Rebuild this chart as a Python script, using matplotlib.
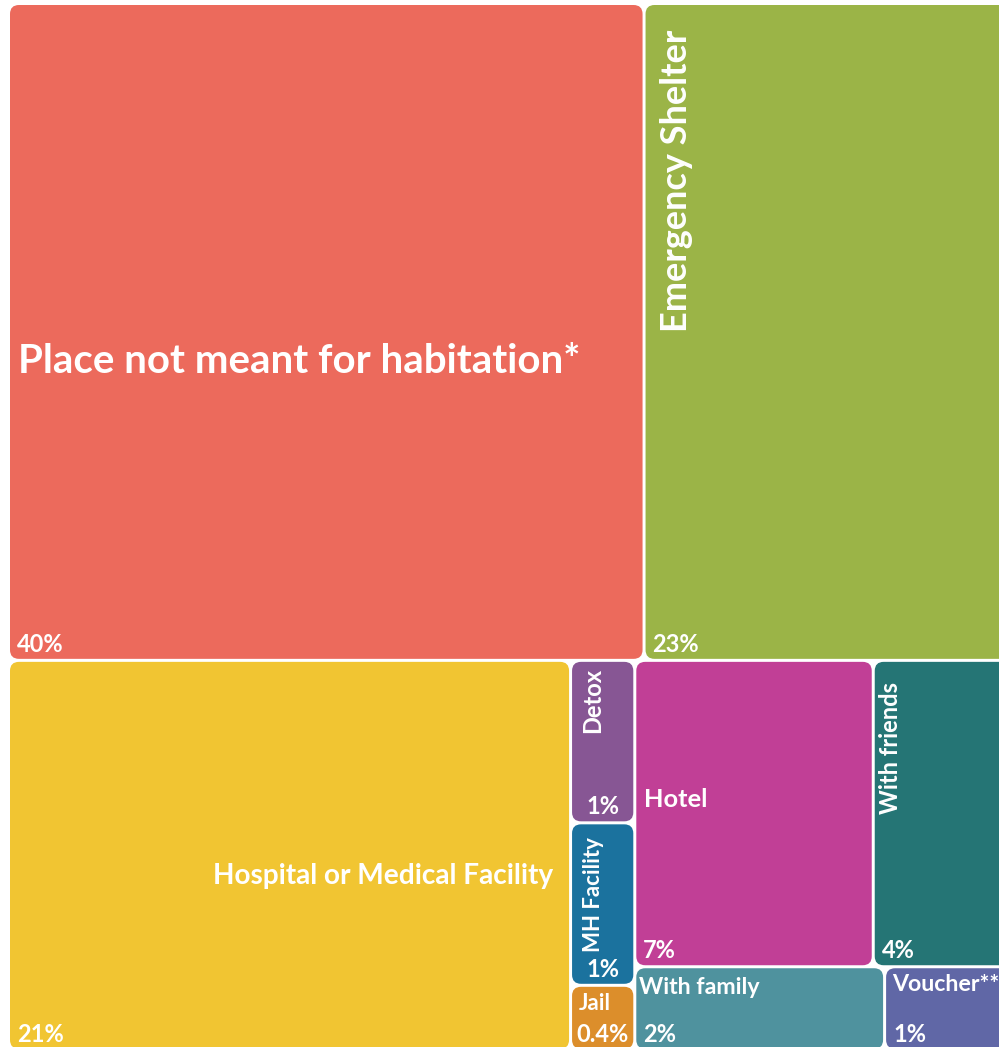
import numpy as np
import matplotlib.pyplot as plt
from matplotlib.patches import FancyBboxPatch

plt.rcParams['font.family'] = ['Lato', 'DejaVu Sans']

# data
categories = ['Place not meant for habitation*', 'Emergency Shelter',
              'Hospital or Medical Facility', 'Detox', 'MH Facility', 'Jail',
              'Hotel', 'With friends', 'With family', 'Voucher**']
shares = [40, 23, 21, 1, 1, 0.4, 7, 4, 2, 1]
pct_labels = ['40%', '23%', '21%', '1%', '1%', '0.4%', '7%', '4%', '2%', '1%']
colors = ['#EC6A5C', '#9BB447', '#F1C532', '#875694', '#1B729E', '#DC8E2B',
          '#C13F96', '#257575', '#4F929E', '#6067A6']

# label look per cell: kind, size, offsets (px)
# 'h' -> horizontal, (ha, pad from side, baseline below top)
# 'v' -> rotated, (baseline right of left edge, text end below top)
label_style = {
    'Place not meant for habitation*': ('h', 29, 'left', 8, 367.7),
    'Emergency Shelter': ('v', 26, 41, 25),
    'Hospital or Medical Facility': ('h', 20.2, 'right', 16, 222),
    'Detox': ('v', 17, 28, 6),
    'MH Facility': ('v', 16, 28, 13),
    'Jail': ('h', 16, 'left', 7, 23),
    'Hotel': ('h', 18.3, 'left', 8, 144.7),
    'With friends': ('v', 17, 23, 20),
    'With family': ('h', 16.7, 'left', 3, 26),
    'Voucher**': ('h', 16.7, 'left', 6, 23),
}
narrow = ['Detox', 'MH Facility', 'Jail']


def squarify(values, x0, y0, x1, y1, ratio=(1 + 5 ** 0.5) / 2):
    """d3 style squarified layout, keeps the input order"""
    rects = []
    n = len(values)
    value = float(sum(values))
    i0 = i1 = 0
    while i0 < n:
        dx, dy = x1 - x0, y1 - y0
        sumv = values[i1]
        i1 += 1
        minv = maxv = sumv
        alpha = max(dy / dx, dx / dy) / (value * ratio)
        beta = sumv * sumv * alpha
        min_ratio = max(maxv / beta, beta / minv)
        while i1 < n:
            v = values[i1]
            sumv += v
            minv = min(minv, v)
            maxv = max(maxv, v)
            beta = sumv * sumv * alpha
            new_ratio = max(maxv / beta, beta / minv)
            if new_ratio > min_ratio:
                sumv -= v
                break
            min_ratio = new_ratio
            i1 += 1
        row = values[i0:i1]
        if dx < dy:
            # row across the top
            yb = y0 + dy * sumv / value
            xx = x0
            for v in row:
                w = dx * v / sumv
                rects.append((xx, y0, xx + w, yb))
                xx += w
            y0 = yb
        else:
            # column on the left
            xb = x0 + dx * sumv / value
            yy = y0
            for v in row:
                h = dy * v / sumv
                rects.append((x0, yy, xb, yy + h))
                yy += h
            x0 = xb
        value -= sumv
        i0 = i1
    return rects


W, H = 999, 1047
fig = plt.figure(figsize=(W / 100, H / 100), dpi=100)
ax = fig.add_axes([0, 0, 1, 1])
ax.set_xlim(0, W)
ax.set_ylim(H, 0)
ax.axis('off')

gap = 1.5
rects = squarify(shares, 8.5, 3.5, 1009.5, 1050.3)

for name, pct, col, (x0, y0, x1, y1) in zip(categories, pct_labels, colors, rects):
    x0, y0, x1, y1 = x0 + gap, y0 + gap, x1 - gap, y1 - gap
    box = FancyBboxPatch((x0, y0), x1 - x0, y1 - y0,
                         boxstyle='round,pad=0,rounding_size=9',
                         fc=col, ec='none')
    ax.add_patch(box)

    st = label_style[name]
    if st[0] == 'h':
        _, size, ha, pad, base = st
        xt = x0 + pad if ha == 'left' else x1 - pad
        ax.text(xt, y0 + base, name, color='white', fontsize=size,
                fontweight='bold', ha=ha, va='baseline')
    else:
        _, size, bx, ey = st
        ax.text(x0 + bx, y0 + ey, name, color='white', fontsize=size,
                fontweight='bold', rotation=90, rotation_mode='anchor',
                ha='right', va='baseline')

    if name in narrow:
        ax.text((x0 + x1) / 2, y1 - 7, pct, color='white', fontsize=17,
                fontweight='bold', ha='center', va='baseline')
    else:
        ax.text(x0 + 7, y1 - 7, pct, color='white', fontsize=17,
                fontweight='bold', ha='left', va='baseline')

fig.savefig('out.png', dpi=100)
